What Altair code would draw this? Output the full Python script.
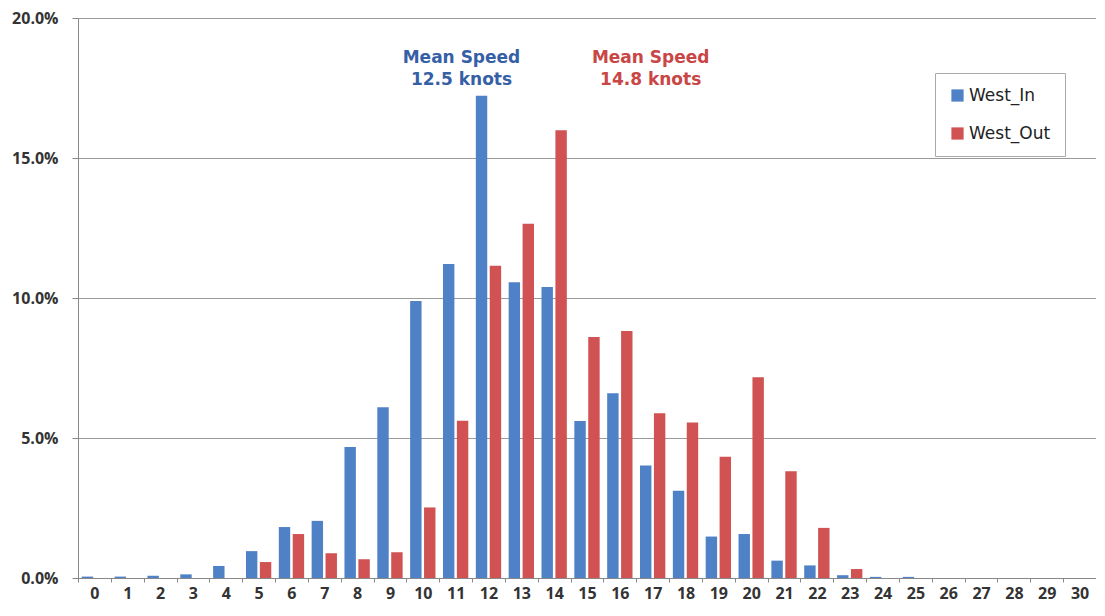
import altair as alt
import pandas as pd

speeds = ["0", "1", "2", "3", "4", "5", "6", "7", "8", "9", "10", "11", "12", "13", "14", "15",
          "16", "17", "18", "19", "20", "21", "22", "23", "24", "25", "26", "27", "28", "29", "30"]
west_in = [0.05, 0.05, 0.08, 0.13, 0.43, 0.96, 1.82, 2.04, 4.68, 6.10, 9.89, 11.21, 17.22, 10.56, 10.39, 5.61,
           6.60, 4.02, 3.12, 1.48, 1.57, 0.62, 0.45, 0.10, 0.04, 0.04, 0.0, 0.0, 0.0, 0.0, 0.0]
west_out = [0.0, 0.0, 0.0, 0.0, 0.0, 0.57, 1.57, 0.88, 0.67, 0.92, 2.52, 5.62, 11.15, 12.65, 15.99, 8.61,
            8.82, 5.88, 5.55, 4.33, 7.17, 3.81, 1.79, 0.32, 0.0, 0.0, 0.0, 0.0, 0.0, 0.0, 0.0]
series = ["West_In", "West_Out"]
colors = ["#4F81C7", "#D05252"]

ann_speed = ["12", "12", "17", "17"]
ann_text = ["Mean Speed", "12.5 knots", "Mean Speed", "14.8 knots"]
ann_y = [18.57, 17.79, 18.57, 17.79]
ann_series = ["West_In", "West_In", "West_Out", "West_Out"]

rows = []
for s, a, b in zip(speeds, west_in, west_out):
    rows.append({"speed": s, "series": "West_In", "value": a / 100})
    rows.append({"speed": s, "series": "West_Out", "value": b / 100})
df = pd.DataFrame(rows)

ann = pd.DataFrame({"speed": ann_speed, "text": ann_text, "y": [v / 100 for v in ann_y],
                    "series": ann_series})

xscale = alt.Scale(domain=speeds, paddingInner=0, paddingOuter=0)
yscale = alt.Scale(domain=[0, 0.2], nice=False)

bars = alt.Chart(df).mark_bar().encode(
    x=alt.X("speed:N", scale=xscale, sort=speeds,
            axis=alt.Axis(title=None, labelAngle=0, labelFont="Open Sans", labelFontWeight="bold",
                          labelFontSize=16, labelColor="#333333", tickBand="extent", tickSize=4,
                          tickColor="#888888", domainColor="#888888", labelPadding=3, grid=False)),
    xOffset=alt.XOffset("series:N", scale=alt.Scale(domain=series, paddingInner=0.18, paddingOuter=0.27)),
    y=alt.Y("value:Q", scale=yscale,
            axis=alt.Axis(title=None, format=".1%", values=[0, 0.05, 0.1, 0.15, 0.2],
                          labelFont="Open Sans", labelFontWeight="bold", labelFontSize=16,
                          labelColor="#333333", tickSize=6, tickColor="#888888",
                          domainColor="#888888", gridColor="#9a9a9a", gridWidth=1, labelPadding=14)),
    color=alt.Color("series:N", scale=alt.Scale(domain=series, range=colors),
                    legend=alt.Legend(title=None, orient="none", legendX=857, legendY=55,
                                      fillColor="white", strokeColor="#aaaaaa", padding=14,
                                      labelFont="DejaVu Sans", labelFontSize=17, labelColor="#222222",
                                      symbolType="square", symbolSize=150, symbolStrokeWidth=0,
                                      rowPadding=20, labelOffset=3, labelLimit=200)),
)

texts = alt.Chart(ann).mark_text(font="DejaVu Sans", fontWeight="bold", fontSize=17,
                                 align="center", baseline="middle").encode(
    x=alt.X("speed:N", scale=xscale, sort=speeds),
    y=alt.Y("y:Q", scale=yscale),
    text="text:N",
    color=alt.Color("series:N", scale=alt.Scale(domain=series, range=["#3560A6", "#C94646"]), legend=None),
)

texts_b = texts.transform_filter(alt.datum.series == "West_In").mark_text(
    font="DejaVu Sans", fontWeight="bold", fontSize=17, align="center", baseline="middle", dx=-27)
texts_r = texts.transform_filter(alt.datum.series == "West_Out").mark_text(
    font="DejaVu Sans", fontWeight="bold", fontSize=17, align="center", baseline="middle", dx=-2)

chart = alt.layer(bars, texts_b, texts_r).resolve_scale(color="independent").properties(
    width=1018, height=560,
    autosize=alt.AutoSizeParams(type="none"),
    padding={"left": 70, "top": 10, "right": 0, "bottom": 30},
).configure_view(stroke=None).configure(background="white")

chart.save("out.html", embed_options={"renderer": "svg", "actions": False})
